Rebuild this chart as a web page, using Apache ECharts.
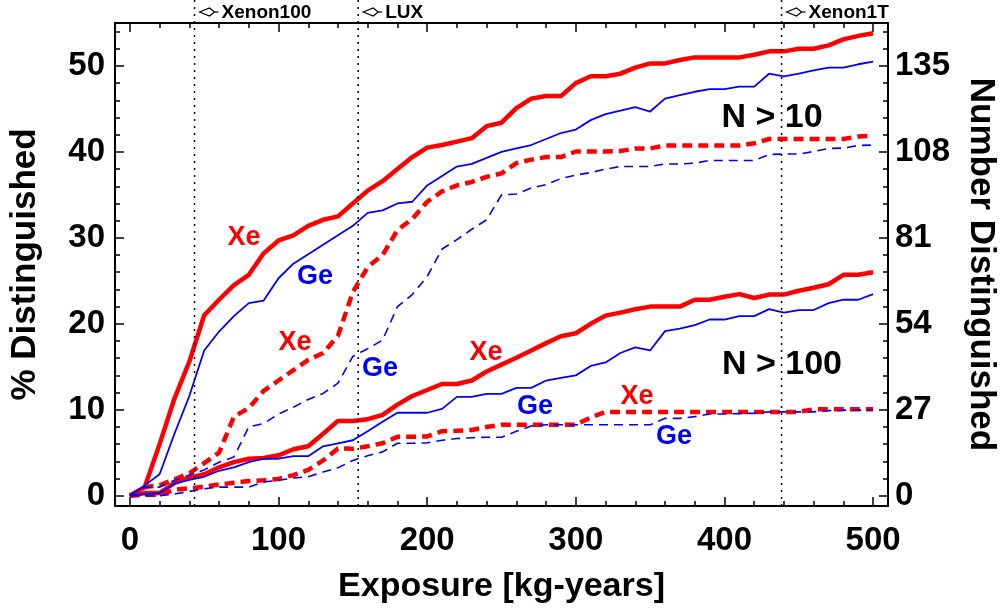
<!DOCTYPE html>
<html><head><meta charset="utf-8">
<script src="https://cdn.jsdelivr.net/npm/echarts@6/dist/echarts.min.js"></script>
<style>html,body{margin:0;padding:0;background:#fff}#c{width:1006px;height:612px}</style>
</head><body><div id="c"></div>
<script>
const exposure = [0,10,20,30,40,50,60,70,80,90,100,110,120,130,140,150,160,170,180,190,200,210,220,230,240,250,260,270,280,290,300,310,320,330,340,350,360,370,380,390,400,410,420,430,440,450,460,470,480,490,500];
const xeN10 = [0,1.0,6.0,11.3,15.6,21.0,22.8,24.5,25.7,28.2,29.7,30.3,31.4,32.1,32.5,34.0,35.5,36.6,38.0,39.4,40.5,40.8,41.2,41.6,43.0,43.4,45.1,46.2,46.5,46.5,48.0,48.8,48.8,49.1,49.8,50.3,50.3,50.7,51.0,51.0,51.0,51.0,51.3,51.7,51.7,52.0,52.0,52.4,53.1,53.5,53.8];
const geN10 = [0,1.2,2.5,7.2,11.6,16.9,19.1,20.9,22.4,22.7,25.3,27.0,28.1,29.2,30.3,31.4,32.9,33.2,34.0,34.2,36.1,37.2,38.3,38.6,39.3,40.0,40.4,40.8,41.5,42.2,42.6,43.7,44.4,44.8,45.2,44.7,46.2,46.6,47.0,47.3,47.3,47.6,47.6,49.1,48.8,49.1,49.5,49.8,49.8,50.2,50.5];
const xeN10Dash = [0,1.0,1.2,1.9,2.6,3.8,5.0,9.2,10.2,12.2,13.4,14.6,15.8,16.6,18.6,23.7,26.6,28.0,30.9,32.2,34.2,35.4,36.1,36.5,37.1,37.5,38.7,39.1,39.4,39.4,40.05,40.05,40.05,40.1,40.4,40.4,40.75,40.75,40.75,40.75,40.75,40.75,41.0,41.5,41.5,41.5,41.5,41.5,41.5,41.8,41.9];
const geN10Dash = [0,1.0,1.0,1.8,2.4,3.0,3.9,4.5,8.0,8.4,9.5,10.3,11.2,11.9,13.1,16.2,17.1,18.1,22.0,23.4,25.5,28.7,29.8,31.0,32.1,35.0,35.1,35.8,36.2,36.9,37.3,37.6,38.0,38.3,38.3,38.3,38.6,38.6,38.7,39.0,39.0,39.0,39.0,39.7,39.75,39.75,40.05,40.4,40.45,40.75,40.8];
const xeN100 = [0,0.3,0.3,1.5,2.1,2.5,3.3,3.9,4.3,4.4,4.7,5.4,5.75,7.2,8.7,8.7,8.9,9.4,10.6,11.6,12.3,13.0,13.0,13.4,14.45,15.25,16.05,16.9,17.75,18.55,18.9,20.0,20.95,21.3,21.7,22.0,22.0,22.0,22.8,22.8,23.15,23.45,23.0,23.4,23.4,23.85,24.2,24.6,25.7,25.7,26.0];
const geN100 = [0,0.2,0.3,1.4,1.85,2.2,2.9,3.3,3.9,4.3,4.3,4.6,4.6,5.75,6.1,6.45,7.5,8.6,9.65,9.65,9.65,10.1,11.5,11.5,11.85,11.85,12.55,12.55,13.4,13.7,14.0,15.1,15.5,16.6,17.25,16.9,19.15,19.45,19.85,20.5,20.5,20.9,20.9,21.7,21.3,21.6,21.6,22.4,22.8,22.8,23.45];
const xeN100Dash = [0,0.1,0.1,0.7,0.85,1.05,1.3,1.5,1.7,1.8,1.95,2.4,3.0,4.1,5.5,5.45,5.75,6.1,6.85,6.85,6.9,7.5,7.55,7.65,8.0,8.25,8.25,8.25,8.25,8.25,8.25,9.1,9.75,9.75,9.75,9.75,9.75,9.75,9.75,9.75,9.75,9.75,9.75,9.75,9.75,9.75,10.05,10.05,10.05,10.05,10.05];
const geN100Dash = [0,0,0,0.2,0.5,0.8,1.0,1.0,1.0,1.6,1.8,2.05,2.2,2.75,3.25,4.1,4.65,5.1,6.1,6.1,6.15,6.45,6.65,6.75,6.8,6.8,7.5,8.1,8.25,8.25,8.25,8.25,8.25,8.25,8.25,8.25,9.0,9.0,9.2,9.5,9.5,9.55,9.6,9.75,9.75,9.75,9.75,9.9,9.95,9.95,10.0];

const xTickLabels = [0,100,200,300,400,500];
const xMinorTicks = [20,40,60,80,120,140,160,180,220,240,260,280,320,340,360,380,420,440,460,480];
const pctTickLabels = [0,10,20,30,40,50];
const pctMinorTicks = [2,4,6,8,12,14,16,18,22,24,26,28,32,34,36,38,42,44,46,48,52,54];
const numTickLabels = [0,27,54,81,108,135];
const numMinorTicks = [5.4,10.8,16.2,21.6,32.4,37.8,43.2,48.6,59.4,64.8,70.2,75.6,86.4,91.8,97.2,102.6,113.4,118.8,124.2,129.6,140.4,145.8];

const experiments = ['Xenon100','LUX','Xenon1T'];
const experimentExposure = [43.5,153.6,438.4];

const FONT = "'Liberation Sans', Arial, Helvetica, sans-serif";
const RED = '#ff0000', BLUE = '#0000ff';
const X_MIN = -10, X_MAX = 510, P_MIN = -1.2, P_MAX = 55, N_PER_PCT = 2.7;

function pairs(arr){ return exposure.map((x,i)=>[x, arr[i]]); }

function xAx(pos, major, showLine){
  return {
    type:'value', position:pos, min:X_MIN, max:X_MAX,
    axisLine:{show:showLine, onZero:false, lineStyle:{color:'#000', width:2}},
    axisTick:{show:true, inside:true, length: major ? 9 : 5, customValues: major ? xTickLabels : xMinorTicks, lineStyle:{color:'#000', width:1.5}},
    axisLabel:{show: major && pos==='bottom', customValues:xTickLabels, margin:18, color:'#000', fontFamily:FONT, fontWeight:'bold', fontSize:33},
    splitLine:{show:false}
  };
}
function yAx(pos, major, showLine, isNum){
  const mn = isNum ? P_MIN*N_PER_PCT : P_MIN, mx = isNum ? P_MAX*N_PER_PCT : P_MAX;
  const lab = isNum ? numTickLabels : pctTickLabels, minor = isNum ? numMinorTicks : pctMinorTicks;
  return {
    type:'value', position:pos, min:mn, max:mx,
    axisLine:{show:showLine, onZero:false, lineStyle:{color:'#000', width:2}},
    axisTick:{show:true, inside:true, length: major ? 9 : 5, customValues: major ? lab : minor, lineStyle:{color:'#000', width:1.5}},
    axisLabel:{show: major, customValues:lab, margin: isNum ? 7 : 10, color:'#000', fontFamily:FONT, fontWeight:'bold', fontSize:33},
    splitLine:{show:false}
  };
}

const xAxes = [xAx('bottom',true,true), xAx('bottom',false,false), xAx('top',true,true), xAx('top',false,false)];
xAxes[0].name = 'Exposure [kg-years]';
xAxes[0].nameLocation = 'middle';
xAxes[0].nameGap = 64;
xAxes[0].nameTextStyle = {color:'#000', fontFamily:FONT, fontWeight:'bold', fontSize:34};
const yAxes = [yAx('left',true,true,false), yAx('left',false,false,false), yAx('right',true,true,true), yAx('right',false,false,true)];
yAxes[0].name = '% Distinguished';
yAxes[0].nameLocation = 'middle';
yAxes[0].nameGap = 72;
yAxes[0].nameTextStyle = {color:'#000', fontFamily:FONT, fontWeight:'bold', fontSize:35};
yAxes[2].name = 'Number Distinguished';
yAxes[2].nameLocation = 'middle';
yAxes[2].nameRotate = -90;
yAxes[2].nameGap = 75;
yAxes[2].nameTextStyle = {color:'#000', fontFamily:FONT, fontWeight:'bold', fontSize:35};

function line(name, arr, color, width, dash){
  return {name, type:'line', xAxisIndex:0, yAxisIndex:0, data:pairs(arr), showSymbol:false, symbol:'none',
    lineStyle:{color, width, type: dash ? dash : 'solid', cap:'butt', join:'round'}, z: color===RED?3:4};
}
const series = [
  line('Xe N>100 dashed', xeN100Dash, RED, 4.5, [10,6]),
  line('Ge N>100 dashed', geN100Dash, BLUE, 1.6, [9,6]),
  line('Xe N>10 dashed', xeN10Dash, RED, 4.5, [10,6]),
  line('Ge N>10 dashed', geN10Dash, BLUE, 1.6, [9,6]),
  line('Xe N>100', xeN100, RED, 4.5, null),
  line('Ge N>100', geN100, BLUE, 1.8, null),
  line('Xe N>10', xeN10, RED, 4.5, null),
  line('Ge N>10', geN10, BLUE, 1.8, null)
];

const chart = echarts.init(document.getElementById('c'), null, {renderer:'canvas'});
const GRID = {left:112, right:116, top:23, bottom:106};
chart.setOption({
  animation:false,
  backgroundColor:'#fff',
  grid:GRID,
  xAxis:xAxes, yAxis:yAxes, series
});

function txt(t, x, y, color, size){
  return {type:'text', x, y, z:10, style:{text:t, fill:color, font:'bold '+size+'px '+FONT, textAlign:'center', textVerticalAlign:'middle'}};
}
const bottomPx = 612 - GRID.bottom;
const graphics = [];
experiments.forEach((name,i)=>{
  const px = chart.convertToPixel({xAxisIndex:0}, experimentExposure[i]);
  graphics.push({type:'line', z:5, shape:{x1:px, y1:0, x2:px, y2:bottomPx}, style:{stroke:'#000', lineWidth:1.5, lineDash:[2,5]}});
  graphics.push({type:'polygon', z:6, shape:{points:[[px+5,12],[px+15,8],[px+20,12],[px+15,16]]}, style:{fill:'#fff', stroke:'#000', lineWidth:1.2}});
  graphics.push({type:'line', z:6, shape:{x1:px+20, y1:12, x2:px+24, y2:12}, style:{stroke:'#000', lineWidth:1.2}});
  graphics.push({type:'text', z:6, x:px+27, y:13, style:{text:name, fill:'#000', font:'bold 19px '+FONT, textAlign:'left', textVerticalAlign:'middle'}});
});
graphics.push(
  txt('Xe',244,238,RED,27), txt('Ge',315,277,BLUE,27),
  txt('Xe',295,343,RED,27), txt('Ge',380,369,BLUE,27),
  txt('Xe',486,353,RED,27), txt('Ge',535,407,BLUE,27),
  txt('Xe',637,397,RED,27), txt('Ge',674,437,BLUE,27),
  txt('N > 10',772,118,'#000',34), txt('N > 100',782,365,'#000',34)
);
chart.setOption({graphic:graphics});
</script>
</body></html>
